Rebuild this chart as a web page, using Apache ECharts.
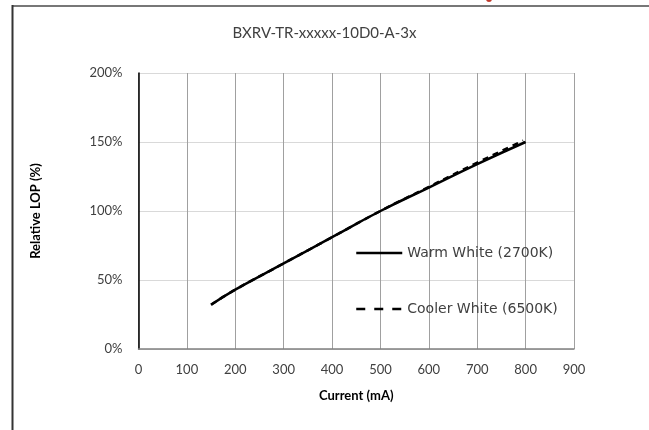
<!DOCTYPE html>
<html>
<head>
<meta charset="utf-8">
<script src="https://cdn.jsdelivr.net/npm/echarts@6/dist/echarts.min.js"></script>
<style>html,body{margin:0;padding:0;background:#fff;}#c{width:649px;height:430px;}</style>
</head>
<body>
<div id="c"></div>
<script>
const titleText = 'BXRV-TR-xxxxx-10D0-A-3x';
const xTicks = [0, 100, 200, 300, 400, 500, 600, 700, 800, 900];
const yTicks = [0, 50, 100, 150, 200];
const warmCurrent = [150, 200, 300, 400, 500, 600, 700, 800];
const warmLOP = [32, 43, 62, 81, 100, 117, 134, 150];
const coolCurrent = [150, 200, 300, 400, 500, 600, 700, 795];
const coolLOP = [32, 43, 62, 81, 100, 117.5, 135, 151];
const seriesNames = ['Warm White (2700K)', 'Cooler White (6500K)'];

const chart = echarts.init(document.getElementById('c'));
const font = 'Lato, "Open Sans", sans-serif';
const legendBase = {
  orient: 'horizontal', itemWidth: 46, itemHeight: 14, itemGap: 4,
  itemStyle: { opacity: 0 },
  textStyle: { fontFamily: '"DejaVu Sans", sans-serif', fontSize: 14, color: '#404040' }
};
chart.setOption({
  animation: false,
  title: { text: titleText, left: 'center', top: 21, textStyle: { fontFamily: font, fontWeight: 'normal', fontSize: 15, color: '#404040' } },
  grid: { left: 138.5, right: 75, top: 73, bottom: 81 },
  legend: [
    Object.assign({}, legendBase, { left: 350, top: 241, data: [seriesNames[0]], lineStyle: { width: 2.5 } }),
    Object.assign({}, legendBase, { left: 350, top: 297, data: [seriesNames[1]], lineStyle: { width: 2.5, type: [9, 9] } })
  ],
  xAxis: {
    type: 'value', min: 0, max: 900, interval: 100,
    name: 'Current (mA)', nameLocation: 'middle', nameGap: 40,
    nameTextStyle: { fontFamily: font, fontWeight: 'bold', fontSize: 13, color: '#000' },
    axisLine: { lineStyle: { color: '#808080', width: 1.5 } },
    axisTick: { show: false },
    axisLabel: { fontFamily: font, fontSize: 13, color: '#404040', margin: 14 },
    splitLine: { show: true, lineStyle: { color: '#a0a0a0', width: 1 } }
  },
  yAxis: {
    type: 'value', min: 0, max: 200, interval: 50,
    name: 'Relative LOP (%)', nameLocation: 'middle', nameGap: 96, nameRotate: 90,
    nameTextStyle: { fontFamily: font, fontWeight: 'bold', fontSize: 13, color: '#000' },
    axisLine: { show: true, lineStyle: { color: '#000', width: 1.5 } },
    axisTick: { show: false },
    axisLabel: { fontFamily: font, fontSize: 13, color: '#404040', margin: 16, formatter: v => v + '%' },
    splitLine: { show: true, lineStyle: { color: '#d9d9d9', width: 1 } }
  },
  series: [
    { name: seriesNames[0], type: 'line', symbol: 'none', smooth: true,
      data: warmCurrent.map((x, i) => [x, warmLOP[i]]),
      lineStyle: { color: '#000', width: 2.5 }, itemStyle: { color: '#000' } },
    { name: seriesNames[1], type: 'line', symbol: 'none', smooth: true,
      data: coolCurrent.map((x, i) => [x, coolLOP[i]]),
      lineStyle: { color: '#000', width: 2.5, type: [6, 5] }, itemStyle: { color: '#000' } }
  ],
  graphic: [
    { type: 'line', shape: { x1: 12, y1: 6, x2: 649, y2: 6 }, style: { stroke: '#777', lineWidth: 2 } },
    { type: 'line', shape: { x1: 12.5, y1: 5, x2: 12.5, y2: 430 }, style: { stroke: '#333', lineWidth: 2 } },
    { type: 'circle', shape: { cx: 489, cy: -1, r: 3 }, style: { fill: '#c0392b' } }
  ]
});
</script>
</body>
</html>
